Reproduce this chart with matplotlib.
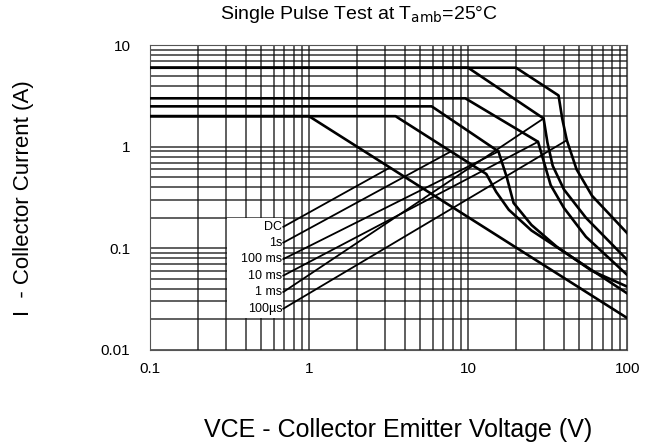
import matplotlib
matplotlib.use("Agg")
import matplotlib.pyplot as plt
from matplotlib.patches import Rectangle

# SOA curves: (VCE [V], IC [A]) corner points
DC_V = [0.1, 1.0, 100]
DC_I = [2.0, 2.0, 0.0206]
S1_V = [0.1, 3.5, 13, 15, 18, 25, 100]
S1_I = [2.0, 2.0, 0.54, 0.36, 0.24, 0.15, 0.036]
MS100_V = [0.1, 5.9, 15.5, 17.5, 19.3, 25, 36, 60, 100]
MS100_I = [2.5, 2.5, 0.9, 0.5, 0.28, 0.17, 0.104, 0.06, 0.042]
MS10_V = [0.1, 9.6, 27.5, 30, 33, 40, 55, 100]
MS10_I = [3.0, 3.0, 1.12, 0.7, 0.42, 0.25, 0.13, 0.0547]
MS1_V = [0.1, 10, 29.8, 31.5, 34, 40, 55, 100]
MS1_I = [6.0, 6.0, 1.9, 1.1, 0.65, 0.38, 0.2, 0.077]
US100_V = [0.1, 20, 37, 39, 41.7, 48, 60, 100]
US100_I = [6.0, 6.0, 3.2, 1.9, 1.16, 0.6, 0.33, 0.141]

curves = [
    ("DC", DC_V, DC_I),
    ("1s", S1_V, S1_I),
    ("100 ms", MS100_V, MS100_I),
    ("10 ms", MS10_V, MS10_I),
    ("1 ms", MS1_V, MS1_I),
    ("100\u00b5s", US100_V, US100_I),
]

# label positions and where each leader line meets its curve
LABEL_X = 0.68
LABEL_I = [0.163, 0.114, 0.0785, 0.054, 0.0372, 0.0255]
LEADER_END_V = [3.2, 7.7, 15.5, 27.5, 29.8, 41.7]
LEADER_END_I = [0.62, 0.89, 0.9, 1.12, 1.9, 1.16]

plt.rcParams["font.family"] = ["Liberation Sans", "DejaVu Sans"]

fig = plt.figure(figsize=(6.46, 4.43), dpi=100)
ax = fig.add_axes([0.232, 0.21, 0.739, 0.688])
ax.set_xscale("log")
ax.set_yscale("log")
ax.set_xlim(0.1, 100)
ax.set_ylim(0.01, 10)

ax.grid(which="both", color="#111111", linewidth=1.1, alpha=0.85)
ax.set_axisbelow(True)

# white box behind the labels
ax.add_patch(Rectangle((0.305, 0.0205), 0.685 - 0.305, 0.198 - 0.0205,
                       facecolor="white", edgecolor="none", zorder=2))

for name, v, i in curves:
    ax.plot(v, i, color="black", linewidth=1.9, zorder=4)

for (name, _, _), ly, ex, ey in zip(curves, LABEL_I, LEADER_END_V, LEADER_END_I):
    ax.text(LABEL_X, ly, name, ha="right", va="center", fontsize=9,
            zorder=5, family=["Liberation Sans", "DejaVu Sans"])
    ax.plot([LABEL_X + 0.01, ex], [ly, ey], color="black", linewidth=1.3, zorder=4)

ax.set_xticks([0.1, 1, 10, 100])
ax.set_xticklabels(["0.1", "1", "10", "100"])
ax.set_yticks([0.01, 0.1, 1, 10])
ax.set_yticklabels(["0.01", "0.1", "1", "10"])
ax.tick_params(which="both", direction="in", length=0, labelsize=11)
ax.tick_params(axis="x", pad=9)
ax.tick_params(axis="y", pad=14)
for s in ax.spines.values():
    s.set_color("#555555")

fig.text(0.556, 0.968, "Single Pulse Test at T$_{\\mathrm{amb}}$=25\u00b0C",
         ha="center", va="center", fontsize=14)
fig.text(0.037, 0.553, "I  - Collector Current (A)", rotation=90,
         ha="center", va="center", fontsize=16)
fig.text(0.616, 0.03, "VCE - Collector Emitter Voltage (V)", ha="center",
         va="center", fontsize=18)

fig.savefig("out.png", dpi=100)
